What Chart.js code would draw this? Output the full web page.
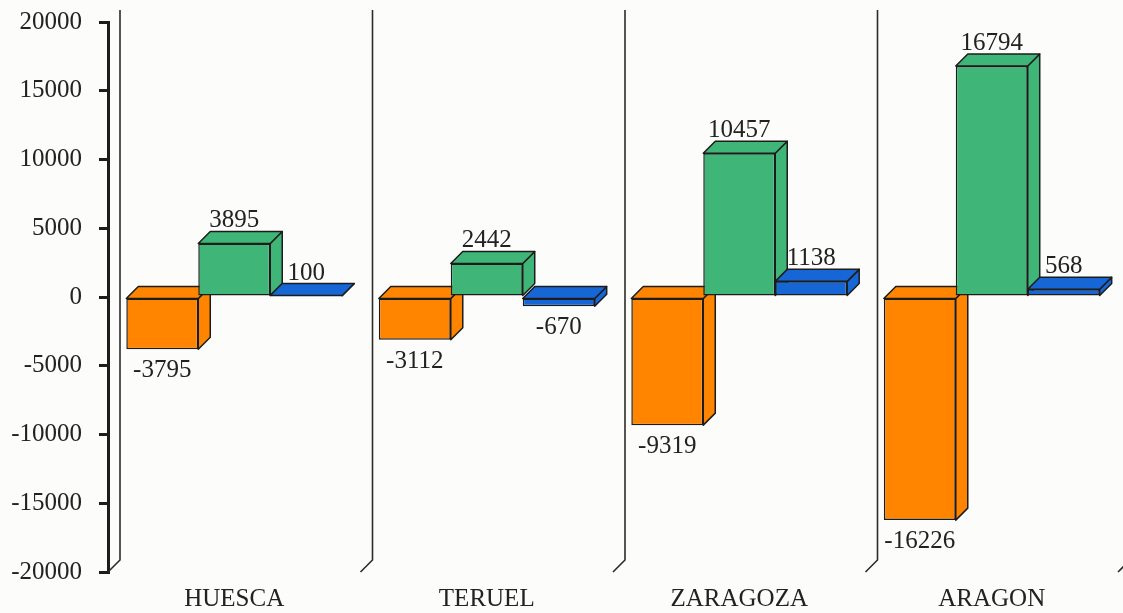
<!DOCTYPE html>
<html>
<head>
<meta charset="utf-8">
<script src="https://cdn.jsdelivr.net/npm/chart.js@4/dist/chart.umd.min.js"></script>
<style>
  html, body { margin: 0; padding: 0; background: #fcfcfb; }
  canvas { display: block; }
</style>
</head>
<body>
<canvas id="c" width="1123" height="613"></canvas>
<script>
// provinces and the three series (orange, green, blue)
const categories = ['HUESCA', 'TERUEL', 'ZARAGOZA', 'ARAGON'];
const seriesOrange = [-3795, -3112, -9319, -16226];
const seriesGreen  = [3895, 2442, 10457, 16794];
const seriesBlue   = [100, -670, 1138, 568];
const yTicks = [-20000, -15000, -10000, -5000, 0, 5000, 10000, 15000, 20000];

const COLORS = {
  orange: '#ff8500',
  green:  '#3fb677',
  blue:   '#1766d6',
  edge:   '#1c1c1c',
  text:   '#222222',
};
const DEPTH = 12;
const FONT = '25px "Liberation Serif", "DejaVu Serif", serif';

// back wall lines + floor diagonals
const wallPlugin = {
  id: 'walls',
  beforeDatasetsDraw(chart) {
    const { ctx, chartArea: a } = chart;
    const gw = (a.right - a.left) / categories.length;
    ctx.save();
    ctx.strokeStyle = '#2b2b2b';
    ctx.lineWidth = 1.6;
    for (let i = 0; i <= categories.length; i++) {
      const xf = a.left + i * gw;
      ctx.beginPath();
      ctx.moveTo(xf + DEPTH, a.top - DEPTH);
      ctx.lineTo(xf + DEPTH, a.bottom - DEPTH);
      ctx.lineTo(xf, a.bottom);
      ctx.stroke();
    }
    ctx.restore();
  },
};

// boxes: skip the default pass, then draw dataset 0 -> 2 so later bars cover earlier faces
const boxPlugin = {
  id: 'box3d',
  beforeDatasetDraw() { return false; },
  afterDatasetsDraw(chart) {
    const { ctx } = chart;
    chart.data.datasets.forEach((ds, di) => {
      const meta = chart.getDatasetMeta(di);
      for (const el of meta.data) {
        el.draw(ctx, chart.chartArea);
        const { x, y, base, width } = el.getProps(['x', 'y', 'base', 'width'], true);
        const x0 = x - width / 2, x1 = x + width / 2;
        const yt = Math.min(y, base), yb = Math.max(y, base);
        ctx.save();
        ctx.fillStyle = ds.backgroundColor;
        ctx.strokeStyle = COLORS.edge;
        ctx.lineWidth = 1.5;
        ctx.lineJoin = 'round';
        // side
        ctx.beginPath();
        ctx.moveTo(x1, yt);
        ctx.lineTo(x1 + DEPTH, yt - DEPTH);
        ctx.lineTo(x1 + DEPTH, yb - DEPTH);
        ctx.lineTo(x1, yb);
        ctx.closePath();
        ctx.fill();
        ctx.stroke();
        // top
        ctx.beginPath();
        ctx.moveTo(x0, yt);
        ctx.lineTo(x0 + DEPTH, yt - DEPTH);
        ctx.lineTo(x1 + DEPTH, yt - DEPTH);
        ctx.lineTo(x1, yt);
        ctx.closePath();
        ctx.fill();
        ctx.stroke();
        ctx.restore();
      }
    });

    // value labels
    ctx.save();
    ctx.font = FONT;
    ctx.fillStyle = COLORS.text;
    ctx.textAlign = 'center';
    chart.data.datasets.forEach((ds, di) => {
      chart.getDatasetMeta(di).data.forEach((el, i) => {
        const v = ds.data[i];
        const { x, y, base } = el.getProps(['x', 'y', 'base'], true);
        if (v >= 0) {
          ctx.textBaseline = 'alphabetic';
          ctx.fillText(String(v), x, y - DEPTH - 4);
        } else {
          ctx.textBaseline = 'top';
          ctx.fillText(String(v), x, Math.max(y, base) + 9);
        }
      });
    });
    ctx.restore();
  },
};

const barOpts = {
  barPercentage: 1,
  categoryPercentage: 0.855,
  borderColor: COLORS.edge,
  borderWidth: 1.5,
  borderSkipped: false,
};

new Chart(document.getElementById('c'), {
  type: 'bar',
  data: {
    labels: categories,
    datasets: [
      { label: 'orange', data: seriesOrange, backgroundColor: COLORS.orange, ...barOpts },
      { label: 'green',  data: seriesGreen,  backgroundColor: COLORS.green,  ...barOpts },
      { label: 'blue',   data: seriesBlue,   backgroundColor: COLORS.blue,   ...barOpts },
    ],
  },
  options: {
    responsive: false,
    animation: false,
    layout: { padding: { top: 22, right: 5, left: 0, bottom: 0 } },
    plugins: { legend: { display: false }, tooltip: { enabled: false } },
    scales: {
      x: {
        grid: { display: false },
        border: { display: false },
        ticks: { color: COLORS.text, font: { family: '"Liberation Serif", serif', size: 25 }, padding: 4 },
        afterFit: s => { s.height = 41; },
      },
      y: {
        min: -20000,
        max: 20000,
        afterBuildTicks: s => { s.ticks = yTicks.map(v => ({ value: v })); },
        grid: { drawOnChartArea: false, drawTicks: true, tickLength: 9, color: '#1c1c1c', lineWidth: 3 },
        border: { display: true, color: '#1c1c1c', width: 3 },
        ticks: {
          color: COLORS.text,
          font: { family: '"Liberation Serif", serif', size: 25 },
          padding: 17,
          callback: v => String(v),
        },
        afterFit: s => { s.width = 108; s.paddingTop = 0; s.paddingBottom = 0; },
      },
    },
  },
  plugins: [wallPlugin, boxPlugin],
});
</script>
</body>
</html>
